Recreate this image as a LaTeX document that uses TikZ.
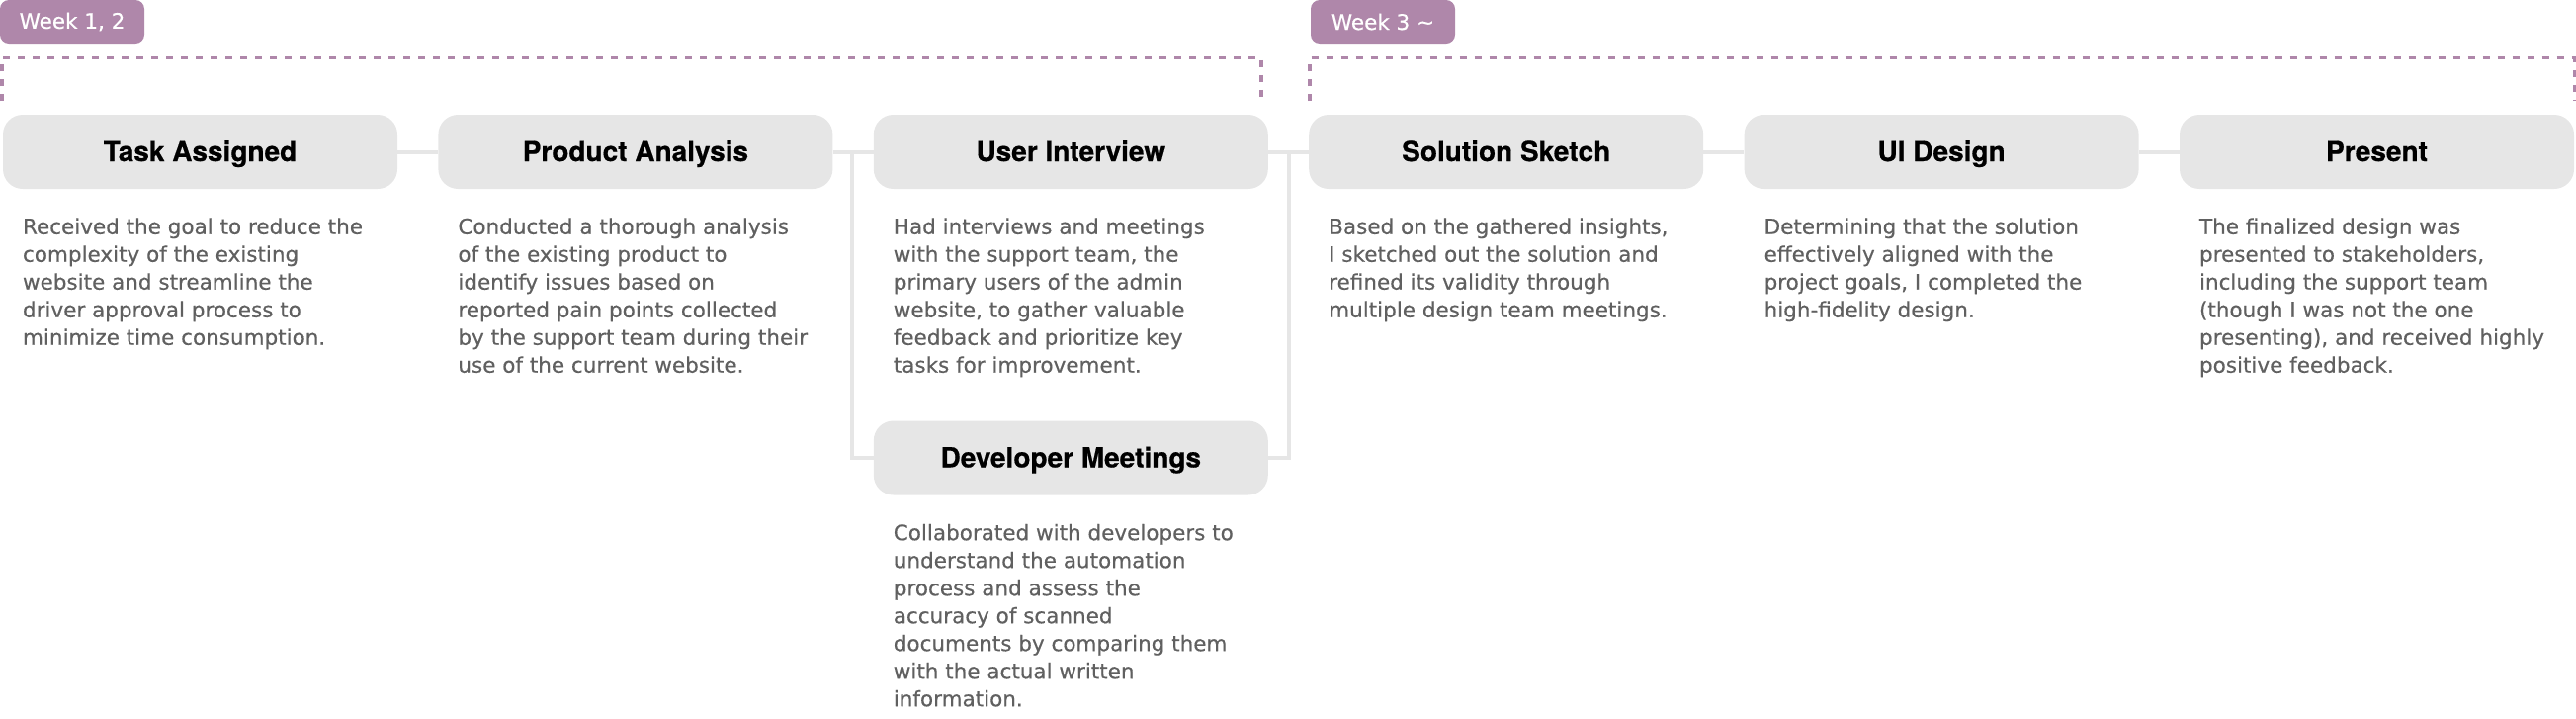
\documentclass[tikz,border=0pt]{standalone}
\usepackage{fontspec}
\setmainfont{DejaVu Sans}
\newfontfamily\headfont[FakeBold=0.6]{TeX Gyre Heros Bold}
\newfontfamily\bodyfont[FakeBold=0.45]{DejaVu Sans}
\usetikzlibrary{positioning}
\definecolor{boxgrey}{RGB}{230,230,230}
\definecolor{weekpurple}{RGB}{175,135,170}
\definecolor{descgrey}{RGB}{96,96,96}
\tikzset{
  % grey box of one phase, with its title
  phase box/.style={fill=boxgrey, rounded corners=20pt, minimum width=399pt,
    minimum height=75pt, inner sep=0pt, text=black, text height=20pt, text depth=1pt,
    font=\headfont\fontsize{28}{34}\selectfont},
  % text under a phase box
  phase text/.style={inner sep=0pt, align=left, text=descgrey,
    font=\bodyfont\fontsize{21.5}{28}\selectfont},
  week tag/.style={fill=weekpurple, rounded corners=9pt, minimum width=146pt,
    minimum height=44pt, inner sep=0pt, text=white,
    font=\bodyfont\fontsize{21.5}{25}\selectfont},
  link/.style={draw=boxgrey, line width=4pt},
  week span/.style={draw=weekpurple, line width=3.5pt, dash pattern=on 7pt off 8pt},
}

\begin{document}
\begin{tikzpicture}[x=1pt,y=1pt]
\useasboundingbox (0,0) rectangle (2606,-726);

\node[week tag] (w12) at (73,-22) {Week 1, 2};
\node[week tag] (w3) at (1399,-22) {Week 3 \textasciitilde};
\draw[week span] (1.75,-102) |- (1276,-58.5) -- (1276,-102);
\draw[week span] (1325,-102) |- (2604.25,-58.5) -- (2604.25,-102);

\node[phase box] (ta) at (202.5,-153.5) {Task Assigned};
\node[phase box] (pa) at (642.9,-153.5) {Product Analysis};
\node[phase box] (ui) at (1083.3,-153.5) {User Interview};
\node[phase box] (dm) at (1083.3,-463) {Developer Meetings};
\node[phase box] (ss) at (1523.7,-153.5) {Solution Sketch};
\node[phase box] (ud) at (1964.1,-153.5) {UI Design};
\node[phase box] (pr) at (2404.5,-153.5) {Present};

\coordinate (jl) at (861.5,-153.5);
\coordinate (jr) at (1304,-153.5);
\draw[link] (ta) -- (pa);
\draw[link] (pa) -- (ui);
\draw[link] (ui) -- (ss);
\draw[link] (ss) -- (ud);
\draw[link] (ud) -- (pr);
\draw[link] (jl) |- (dm.west);
\draw[link] (jr) |- (dm.east);

\node[phase text, below right=29pt and 20pt of ta.south west] (tatext)
  {Received the goal to reduce the\\complexity of the existing\\website and streamline the\\driver approval process to\\minimize time consumption.};
\node[phase text, below right=29pt and 20pt of pa.south west] (patext)
  {Conducted a thorough analysis\\of the existing product to\\identify issues based on\\reported pain points collected\\by the support team during their\\use of the current website.};
\node[phase text, below right=29pt and 20pt of ui.south west] (uitext)
  {Had interviews and meetings\\with the support team, the\\primary users of the admin\\website, to gather valuable\\feedback and prioritize key\\tasks for improvement.};
\node[phase text, below right=29pt and 20pt of dm.south west] (dmtext)
  {Collaborated with developers to\\understand the automation\\process and assess the\\accuracy of scanned\\documents by comparing them\\with the actual written\\information.};
\node[phase text, below right=29pt and 20pt of ss.south west] (sstext)
  {Based on the gathered insights,\\I sketched out the solution and\\refined its validity through\\multiple design team meetings.};
\node[phase text, below right=29pt and 20pt of ud.south west] (udtext)
  {Determining that the solution\\effectively aligned with the\\project goals, I completed the\\high-fidelity design.};
\node[phase text, below right=29pt and 20pt of pr.south west] (prtext)
  {The finalized design was\\presented to stakeholders,\\including the support team\\(though I was not the one\\presenting), and received highly\\positive feedback.};

\end{tikzpicture}
\end{document}
